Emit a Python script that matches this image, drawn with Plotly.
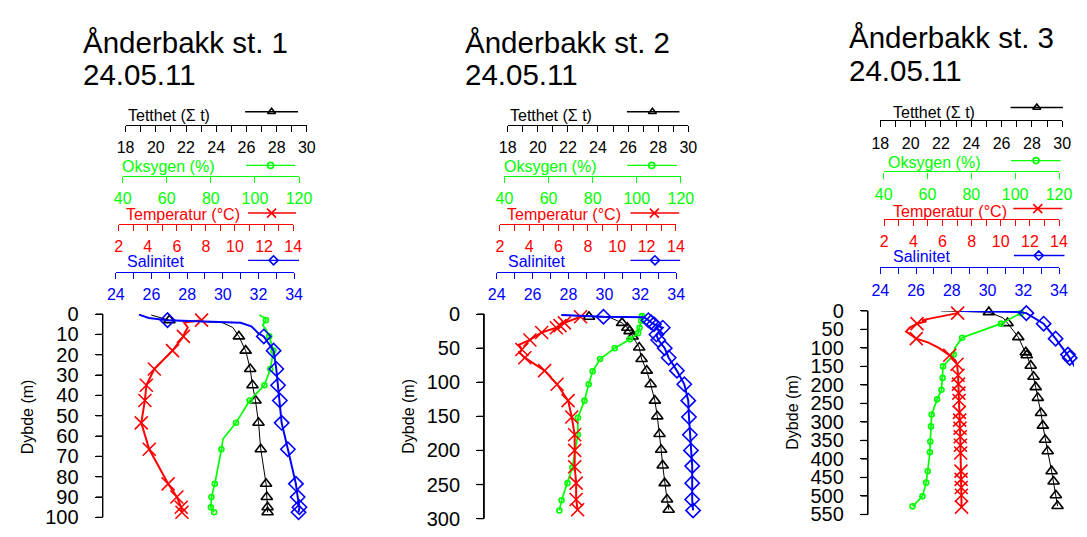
import plotly.graph_objects as go

W, H = 1087, 537

# ------------------------------------------------------------------ data
# Station 1 (depth 0-100 m) - marker depths shared by all four series
st1_depth = [3, 11, 18, 27, 35, 42.5, 53.5, 66.5, 83.5, 90, 95, 97.5]
st1_tetthet = [20.9, 25.5, 25.95, 26.25, 26.4, 26.6, 26.8, 26.95, 27.3, 27.35, 27.4, 27.4]
st1_oksygen = [105.0, 106.5, 108.4, 107.0, 104.3, 97.6, 91.4, 84.8, 81.8, 80.3, 80.0, 81.5]
st1_temp = [7.7, 6.45, 5.7, 4.45, 3.9, 3.8, 3.55, 4.1, 5.4, 6.0, 6.3, 6.35]
st1_sal = [26.9, 32.3, 32.85, 33.0, 33.1, 33.2, 33.3, 33.65, 34.1, 34.2, 34.3, 34.25]
# extra CTD profile points (lines only)
st1_tetthet_prof_d = [0.5, 4.2, 6.6]
st1_tetthet_prof_v = [19.7, 24.4, 25.1]
st1_oksygen_prof_d = [0.5, 2.0, 5.5, 7.5, 61.5]
st1_oksygen_prof_v = [102.0, 104.5, 103.5, 105.0, 85.5]
st1_temp_prof_d = [4.2, 6.6, 9.0]
st1_temp_prof_v = [6.5, 6.75, 6.55]
st1_sal_prof_d = [0.3, 1.9, 4.0, 4.3, 6.0, 9.5]
st1_sal_prof_v = [25.3, 25.85, 30.0, 31.0, 31.6, 32.0]

# Station 2 (depth 0-300 m)
st2_tetthet_d = [4, 13, 20, 25, 33, 49, 66, 83, 103, 127, 150, 176, 199, 222, 248, 272, 287]
st2_tetthet = [23.4, 25.6, 25.95, 26.1, 26.3, 26.74, 26.9, 27.24, 27.5, 27.78, 27.94, 28.09,
               28.2, 28.3, 28.43, 28.59, 28.7]
st2_oksygen_d = [3, 10, 20, 28, 37, 50, 66, 84, 103, 127, 152, 177, 225, 248, 273, 288]
st2_oksygen = [102.4, 102.0, 101.3, 100.6, 96.9, 90.0, 83.4, 80.0, 78.2, 76.3, 73.3, 73.3,
               70.8, 68.6, 65.9, 64.9]
st2_temp_d = [4, 13, 17, 20, 27, 38, 52, 64, 83, 103, 127, 151, 177, 200, 224, 248, 272, 287]
st2_temp = [7.5, 6.4, 6.1, 5.85, 4.85, 4.05, 3.5, 3.7, 5.05, 5.9, 6.65, 6.9, 7.1, 7.1, 7.1,
            7.2, 7.2, 7.3]
st2_sal_d = [4, 9, 12, 15, 20, 30, 38, 50, 64, 83, 103, 127, 151, 177, 200, 223, 248, 272, 288]
st2_sal = [29.95, 32.45, 32.6, 32.76, 33.25, 32.9, 33.0, 33.36, 33.58, 34.04, 34.45, 34.67,
           34.71, 34.76, 34.82, 34.89, 34.89, 34.89, 34.94]
st2_tetthet_prof_d = [1.5, 5.0]
st2_tetthet_prof_v = [21.7, 24.8]
st2_oksygen_prof_d = [0.5]
st2_oksygen_prof_v = [103.0]
st2_temp_prof_d = [45, 57]
st2_temp_prof_v = [3.3, 3.35]
st2_sal_prof_d = [1.5, 4.6, 6.0]
st2_sal_prof_v = [27.6, 32.2, 32.3]

# Station 3 (depth 0-550 m)
st3_tetthet_d = [3.4, 33, 71, 112, 120, 148, 178, 206, 235, 276, 310, 348, 379, 433, 461, 498, 527]
st3_tetthet = [25.16, 26.39, 27.1, 27.6, 27.66, 27.92, 28.11, 28.25, 28.39, 28.6, 28.72, 28.87,
               29.04, 29.3, 29.43, 29.58, 29.69]
st3_oksygen_d = [6, 34.5, 72.5, 118, 150, 181, 213, 239, 280, 312, 353, 382, 433, 464, 501, 528]
st3_oksygen = [102.6, 93.5, 75.8, 72.0, 67.1, 66.9, 66.4, 64.4, 61.9, 61.6, 61.3, 61.1, 60.1,
               59.4, 57.7, 53.2]
st3_temp_d = [6, 34.5, 75, 120, 144, 174, 198, 222, 242, 274, 295, 317, 340, 363, 384, 433,
              455, 477, 498, 530]
st3_temp = [7.04, 4.25, 4.2, 6.5, 7.0, 7.07, 7.1, 7.12, 7.14, 7.16, 7.18, 7.2, 7.22, 7.23, 7.25,
            7.27, 7.28, 7.29, 7.3, 7.31]
st3_sal_d = [6, 34.5, 75, 118, 127, 153, 183, 218, 239, 274, 317, 347, 377, 433, 464, 498, 528]
st3_sal = [32.17, 33.14, 33.81, 34.5, 34.6, 34.9, 34.9, 34.91, 34.91, 34.91, 34.91, 34.92,
           34.92, 34.92, 34.92, 34.92, 34.92]
st3_tetthet_prof_d = [0.0, 19]
st3_tetthet_prof_v = [22.0, 26.1]
st3_oksygen_prof_d = [1.5, 100]
st3_oksygen_prof_v = [103.3, 72.5]
st3_temp_prof_d = [20, 25, 28, 45, 56, 85, 100, 110, 135]
st3_temp_prof_v = [5.2, 4.6, 4.9, 3.75, 3.5, 5.0, 5.75, 6.15, 6.9]
st3_sal_prof_d = [0.0, 3.4]
st3_sal_prof_v = [28.5, 31.8]

# axis tick settings (range, major step, minor step)
var_keys = ["tett", "oks", "temp", "sal"]
var_labels = ["Tetthet (\u03a3 t)", "Oksygen (%)", "Temperatur (\u00b0C)", "Salinitet"]
var_ranges = [(18, 30), (40, 120), (2, 14), (24, 34)]
var_major = [2, 20, 2, 2]
var_minor = [1, None, 1, 1]
titles = ["\u00c5nderbakk st. 1", "\u00c5nderbakk st. 2", "\u00c5nderbakk st. 3"]
dates = ["24.05.11", "24.05.11", "24.05.11"]
depth_max = [100, 300, 550]
depth_step = [10, 50, 50]

# ------------------------------------------------------------------ styles
COL = {"tett": "#000000", "oks": "#00FF00", "temp": "#FF0000", "sal": "#0000FF"}
SYM = {"tett": "triangle-up-open", "oks": "circle-open", "temp": "x-thin-open", "sal": "diamond-open"}
MSIZE = {"tett": 10, "oks": 5, "temp": 13, "sal": 11}
KSIZE = {"tett": 7, "oks": 6, "temp": 9, "sal": 7}
LW = {"tett": 1.0, "oks": 1.7, "temp": 2.0, "sal": 2.0}
FONT = "Liberation Sans, Arial, Helvetica, sans-serif"

series = [
    {"tett": (st1_depth, st1_tetthet, st1_tetthet_prof_d, st1_tetthet_prof_v),
     "oks": (st1_depth, st1_oksygen, st1_oksygen_prof_d, st1_oksygen_prof_v),
     "temp": (st1_depth, st1_temp, st1_temp_prof_d, st1_temp_prof_v),
     "sal": (st1_depth, st1_sal, st1_sal_prof_d, st1_sal_prof_v)},
    {"tett": (st2_tetthet_d, st2_tetthet, st2_tetthet_prof_d, st2_tetthet_prof_v),
     "oks": (st2_oksygen_d, st2_oksygen, st2_oksygen_prof_d, st2_oksygen_prof_v),
     "temp": (st2_temp_d, st2_temp, st2_temp_prof_d, st2_temp_prof_v),
     "sal": (st2_sal_d, st2_sal, st2_sal_prof_d, st2_sal_prof_v)},
    {"tett": (st3_tetthet_d, st3_tetthet, st3_tetthet_prof_d, st3_tetthet_prof_v),
     "oks": (st3_oksygen_d, st3_oksygen, st3_oksygen_prof_d, st3_oksygen_prof_v),
     "temp": (st3_temp_d, st3_temp, st3_temp_prof_d, st3_temp_prof_v),
     "sal": (st3_sal_d, st3_sal, st3_sal_prof_d, st3_sal_prof_v)},
]

# pixel layout of each panel (page pixels)
PANELS = [
    dict(tx=73.3, ty=(33, 66), yx=95.7, ytop=316, ybot=528, L=95.7, R=360, dyb=(19, 423),
         axes={"tett": (119, 304, 118.7), "oks": (116, 296, 171.7), "temp": (112, 290, 221.7), "sal": (109, 291, 271.7)},
         tpos={"tett": (119, 109), "oks": (113, 161.7), "temp": (117, 212.7), "sal": (118, 260.7)},
         keys={"tett": (241, 295, 268, 105), "oks": (242, 292, 267, 161), "temp": (244, 293, 268, 210.7), "sal": (244, 296, 270, 260)}),
    dict(tx=463, ty=(33, 66), yx=485, ytop=316, ybot=529.3, L=485, R=750, dyb=(408.3, 423),
         axes={"tett": (509, 693.3, 118.7), "oks": (505.7, 685.7, 171.7), "temp": (501, 680.7, 221.7), "sal": (497.7, 681, 271.7)},
         tpos={"tett": (509, 109), "oks": (502.7, 161.7), "temp": (506.7, 212.7), "sal": (507.7, 260.7)},
         keys={"tett": (630.7, 684.3, 656.7, 105), "oks": (631, 681.7, 656, 161), "temp": (634.3, 684, 658.7, 210.7), "sal": (634.3, 685, 659.3, 260)}),
    dict(tx=855, ty=(27.5, 61.7), yx=876.7, ytop=312.7, ybot=525, L=876.7, R=W, dyb=(800, 418),
         axes={"tett": (889.3, 1075, 114), "oks": (892.7, 1071.7, 167.3), "temp": (893.3, 1071.7, 216.7), "sal": (889.3, 1071.7, 267.3)},
         tpos={"tett": (900, 106), "oks": (895, 158.3), "temp": (900, 209.3), "sal": (900, 256)},
         keys={"tett": (1022.3, 1075.7, 1049, 100.7), "oks": (1022.7, 1073.3, 1048.3, 156), "temp": (1025, 1075, 1050, 206), "sal": (1025.7, 1077.3, 1051, 255)}),
]
YTICKLEN = 7


def clamp(v):
    return min(1.0, max(0.0, v))


def fx(x):
    return clamp(x / W)


def fy(y):
    return clamp(1 - y / H)


layout_axes = {}
counters = {"x": 0, "y": 0}


def new_axis(kind, cfg):
    counters[kind] += 1
    n = counters[kind]
    layout_axes[(kind + "axis") + ("" if n == 1 else str(n))] = cfg
    return kind + ("" if n == 1 else str(n))


def axis_key(aid):
    return aid[0] + "axis" + aid[1:]


fig = go.Figure()
annotations = []
shapes = []

# overlay pixel-space axes for legend keys
kx = new_axis("x", dict(domain=[0, 1], range=[0, W], visible=False, anchor="y"))
ky = new_axis("y", dict(domain=[0, 1], range=[H, 0], visible=False, anchor="x"))

for p, P in enumerate(PANELS):
    yid = new_axis("y", dict(
        domain=[fy(P["ybot"]), fy(P["ytop"])], range=[depth_max[p], 0],
        side="left", showline=True, linecolor="black", linewidth=1.3,
        ticks="outside", ticklen=YTICKLEN, tickwidth=1.3, tickcolor="black",
        tick0=0, dtick=depth_step[p], showgrid=False, zeroline=False,
        tickfont=dict(family=FONT, size=20, color="black"), ticklabelstandoff=12,
        ticklabeloverflow="allow"))
    first_hidden = None

    # depth-axis spine and ticks as layout shapes (same geometry as the y axis)
    scale = (P["ybot"] - P["ytop"]) / depth_max[p]
    shapes.append(dict(type="line", xref="paper", yref="paper", layer="above",
                       x0=P["yx"] / W, x1=P["yx"] / W, y0=1 - P["ytop"] / H, y1=1 - P["ybot"] / H,
                       line=dict(color="black", width=1.3)))
    d = 0
    while d <= depth_max[p] + 1e-9:
        yy = P["ytop"] + d * scale
        shapes.append(dict(type="line", xref="paper", yref="paper", layer="above",
                           x0=(P["yx"] - YTICKLEN) / W, x1=P["yx"] / W,
                           y0=1 - yy / H, y1=1 - yy / H,
                           line=dict(color="black", width=1.3)))
        d += depth_step[p]

    for i, k in enumerate(var_keys):
        v0, v1 = var_ranges[i]
        x0, x1, ypos = P["axes"][k]
        c = COL[k]
        minor = dict(dtick=var_minor[i], tick0=v0, ticks="outside", ticklen=6,
                     tickcolor=c, tickwidth=1.3) if var_minor[i] else None
        vis = new_axis("x", dict(
            domain=[fx(x0), fx(x1)], range=[v0, v1], anchor="free", position=fy(ypos),
            side="bottom", showline=True, linecolor=c, linewidth=1.3,
            ticks="outside", ticklen=6, tickwidth=1.3, tickcolor=c,
            tick0=v0, dtick=var_major[i], showgrid=False, zeroline=False,
            tickfont=dict(family=FONT, size=16, color=c), ticklabelstandoff=2,
            ticklabeloverflow="allow",
            **({"minor": minor} if minor else {})))
        fig.add_trace(go.Scatter(x=[None], y=[None], xaxis=vis, yaxis=yid,
                                 showlegend=False, hoverinfo="skip"))
        # hidden axis sharing the same scale, spanning the whole plot region
        s = (v1 - v0) / (x1 - x0)
        hid = new_axis("x", dict(
            domain=[fx(P["L"]), fx(P["R"])],
            range=[v0 + (P["L"] - x0) * s, v0 + (P["R"] - x0) * s],
            visible=False, anchor=yid))
        if first_hidden is None:
            first_hidden = hid

        md, mv, ed, ev = series[p][k]
        pts = sorted(list(zip(md, mv)) + list(zip(ed, ev)))
        fig.add_trace(go.Scatter(
            x=[q[1] for q in pts], y=[q[0] for q in pts], mode="lines",
            line=dict(color=c, width=LW[k]), xaxis=hid, yaxis=yid,
            showlegend=False, hoverinfo="skip"))
        fig.add_trace(go.Scatter(
            x=mv, y=md, mode="markers", cliponaxis=False,
            marker=dict(symbol=SYM[k], size=MSIZE[k], color=c, line=dict(color=c, width=1.6)),
            xaxis=hid, yaxis=yid, showlegend=False, hoverinfo="skip"))

        # legend key (line + symbol) next to the axis label
        ka, kb, km, kyp = P["keys"][k]
        fig.add_trace(go.Scatter(x=[ka, kb], y=[kyp, kyp], mode="lines",
                                 line=dict(color=c, width=1.4), xaxis=kx, yaxis=ky,
                                 showlegend=False, hoverinfo="skip"))
        fig.add_trace(go.Scatter(x=[km], y=[kyp], mode="markers", cliponaxis=False,
                                 marker=dict(symbol=SYM[k], size=KSIZE[k], color=c,
                                             line=dict(color=c, width=1.6)),
                                 xaxis=kx, yaxis=ky, showlegend=False, hoverinfo="skip"))
        tx, ty = P["tpos"][k]
        annotations.append(dict(x=fx(tx), y=fy(ty), xref="paper", yref="paper",
                                text=var_labels[i], showarrow=False, xanchor="left",
                                yanchor="middle", font=dict(family=FONT, size=16, color=c)))

    layout_axes[axis_key(yid)]["anchor"] = first_hidden

    annotations.append(dict(x=fx(P["tx"]), y=fy(P["ty"][0]), xref="paper", yref="paper",
                            text=titles[p], showarrow=False, xanchor="left", yanchor="middle",
                            font=dict(family=FONT, size=29.5, color="black")))
    annotations.append(dict(x=fx(P["tx"]), y=fy(P["ty"][1]), xref="paper", yref="paper",
                            text=dates[p], showarrow=False, xanchor="left", yanchor="middle",
                            font=dict(family=FONT, size=29.5, color="black")))
    annotations.append(dict(x=fx(P["dyb"][0]), y=fy(P["dyb"][1]), xref="paper", yref="paper",
                            text="Dybde (m)", showarrow=False, textangle=-90,
                            xanchor="center", yanchor="middle",
                            font=dict(family=FONT, size=16, color="black")))

fig.update_layout(
    width=W, height=H, margin=dict(l=0, r=0, t=0, b=0),
    paper_bgcolor="white", plot_bgcolor="rgba(0,0,0,0)",
    showlegend=False, annotations=annotations, shapes=shapes,
    font=dict(family=FONT),
    **layout_axes)

fig.write_html("out.html", config={"displayModeBar": False},
               post_script="document.body.style.margin='0';"
                           "document.documentElement.style.overflow='hidden';")
